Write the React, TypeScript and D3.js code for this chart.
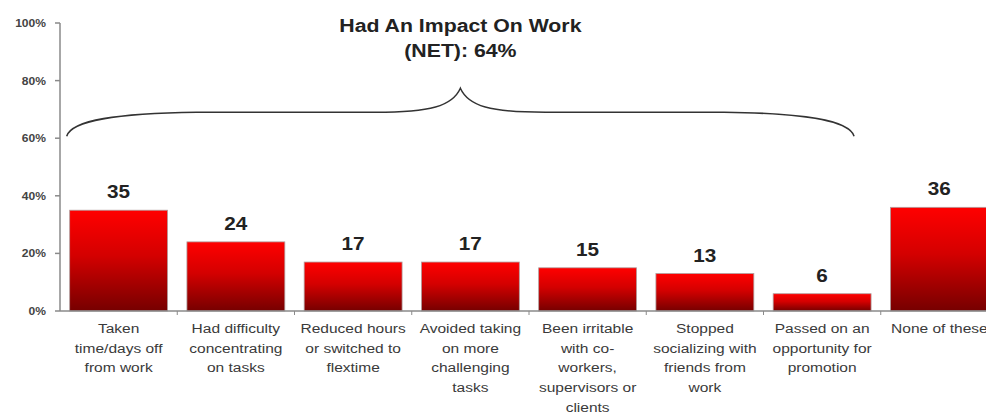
import * as d3 from "d3";

// chart data
const categories = [
  "Taken time/days off from work",
  "Had difficulty concentrating on tasks",
  "Reduced hours or switched to flextime",
  "Avoided taking on more challenging tasks",
  "Been irritable with co-workers, supervisors or clients",
  "Stopped socializing with friends from work",
  "Passed on an opportunity for promotion",
  "None of these",
];
const labelLines = [
  ["Taken", "time/days off", "from work"],
  ["Had difficulty", "concentrating", "on tasks"],
  ["Reduced hours", "or switched to", "flextime"],
  ["Avoided taking", "on more", "challenging", "tasks"],
  ["Been irritable", "with co-", "workers,", "supervisors or", "clients"],
  ["Stopped", "socializing with", "friends from", "work"],
  ["Passed on an", "opportunity for", "promotion"],
  ["None of these"],
];
const values = [35, 24, 17, 17, 15, 13, 6, 36];
const yTicks = [0, 20, 40, 60, 80, 100];
const netTitle = ["Had An Impact On Work", "(NET): 64%"];
const netCount = 7; // first 7 categories sit under the brace
const netLevel = 60; // brace ends at this y value

const W = 986, H = 414;
const margin = { top: 23, left: 60, bottom: 103 };
const SX = 1.15; // source picture is a bit stretched horizontally
const font = "Arial, 'Liberation Sans', Helvetica, sans-serif";

export default function App() {
  const x = d3.scaleBand<string>()
    .domain(categories)
    .range([margin.left, margin.left + 8 * 117.25])
    .paddingInner(0.165)
    .paddingOuter(0.0825);
  const y = d3.scaleLinear().domain([0, 100]).range([H - margin.bottom, margin.top]);
  const step = x.step();
  const x0 = x.range()[0];

  // brace over the "impact" group
  const bx0 = x(categories[0])! - 3;
  const bx1 = x(categories[netCount - 1])! + x.bandwidth() - 17;
  const mid = (bx0 + bx1) / 2;
  const yEnd = y(netLevel) - 2;
  const yFlat = yEnd - 24;
  const yTip = yFlat - 24;
  const brace = d3.path();
  brace.moveTo(bx0, yEnd);
  brace.bezierCurveTo(bx0 + 5, yFlat + 8, bx0 + 50, yFlat + 1, bx0 + 130, yFlat);
  brace.lineTo(mid - 85, yFlat);
  brace.bezierCurveTo(mid - 30, yFlat, mid - 8, yFlat - 6, mid, yTip);
  brace.bezierCurveTo(mid + 8, yFlat - 6, mid + 30, yFlat, mid + 85, yFlat);
  brace.lineTo(bx1 - 130, yFlat);
  brace.bezierCurveTo(bx1 - 50, yFlat + 1, bx1 - 5, yFlat + 8, bx1, yEnd);

  return (
    <svg width={W} height={H} style={{ position: "absolute", left: 0, top: 0, overflow: "hidden", background: "#fff" }} fontFamily={font}>
      <defs>
        <linearGradient id="barFill" x1="0" y1="0" x2="0" y2="1">
          <stop offset="0%" stopColor="#ff0000" />
          <stop offset="45%" stopColor="#d40000" />
          <stop offset="100%" stopColor="#760000" />
        </linearGradient>
      </defs>

      {/* y axis */}
      <line x1={x0} x2={x0} y1={y(100)} y2={y(0)} stroke="#8a8a8a" strokeWidth={1.5} />
      {yTicks.map(t => (
        <g key={t}>
          <line x1={x0 - 5} x2={x0} y1={y(t)} y2={y(t)} stroke="#8a8a8a" strokeWidth={1.5} />
          <text transform={`translate(${x0 - 14},${y(t) + 4}) scale(${SX},1)`} textAnchor="end"
            fontSize={10.5} fontWeight="bold" fill="#444">{t}%</text>
        </g>
      ))}

      {/* bars */}
      {categories.map((c, i) => (
        <rect key={c} x={x(c)} y={y(values[i])} width={x.bandwidth()} height={y(0) - y(values[i])}
          fill="url(#barFill)" stroke="#b0a0a0" strokeWidth={0.8} />
      ))}

      {/* x axis */}
      <line x1={x0} x2={x0 + step * categories.length} y1={y(0)} y2={y(0)} stroke="#8a8a8a" strokeWidth={1.5} />
      {d3.range(1, categories.length).map(k => (
        <line key={k} x1={x0 + k * step} x2={x0 + k * step} y1={y(0)} y2={y(0) + 4} stroke="#8a8a8a" strokeWidth={1} />
      ))}

      {/* value labels */}
      {categories.map((c, i) => (
        <text key={c} transform={`translate(${x(c)! + x.bandwidth() / 2},${y(values[i]) - 12}) scale(${SX},1)`}
          textAnchor="middle" fontSize={18} fontWeight="bold" fill="#222">{values[i]}</text>
      ))}

      {/* category labels */}
      {categories.map((c, i) => (
        <text key={c} transform={`translate(${x(c)! + x.bandwidth() / 2},${y(0) + 22}) scale(${SX},1)`}
          textAnchor="middle" fontSize={13.5} fill="#3a3a3a">
          {labelLines[i].map((l, j) => (
            <tspan key={j} x={0} y={j * 19.7}>{l}</tspan>
          ))}
        </text>
      ))}

      {/* brace + NET title */}
      <path d={brace.toString()} fill="none" stroke="#333" strokeWidth={1.5} />
      <text transform={`translate(${mid},${y(100) + 9}) scale(${SX},1)`} textAnchor="middle"
        fontSize={18.5} fontWeight="bold" fill="#222">
        {netTitle.map((l, j) => (
          <tspan key={j} x={0} y={j * 25}>{l}</tspan>
        ))}
      </text>
    </svg>
  );
}
